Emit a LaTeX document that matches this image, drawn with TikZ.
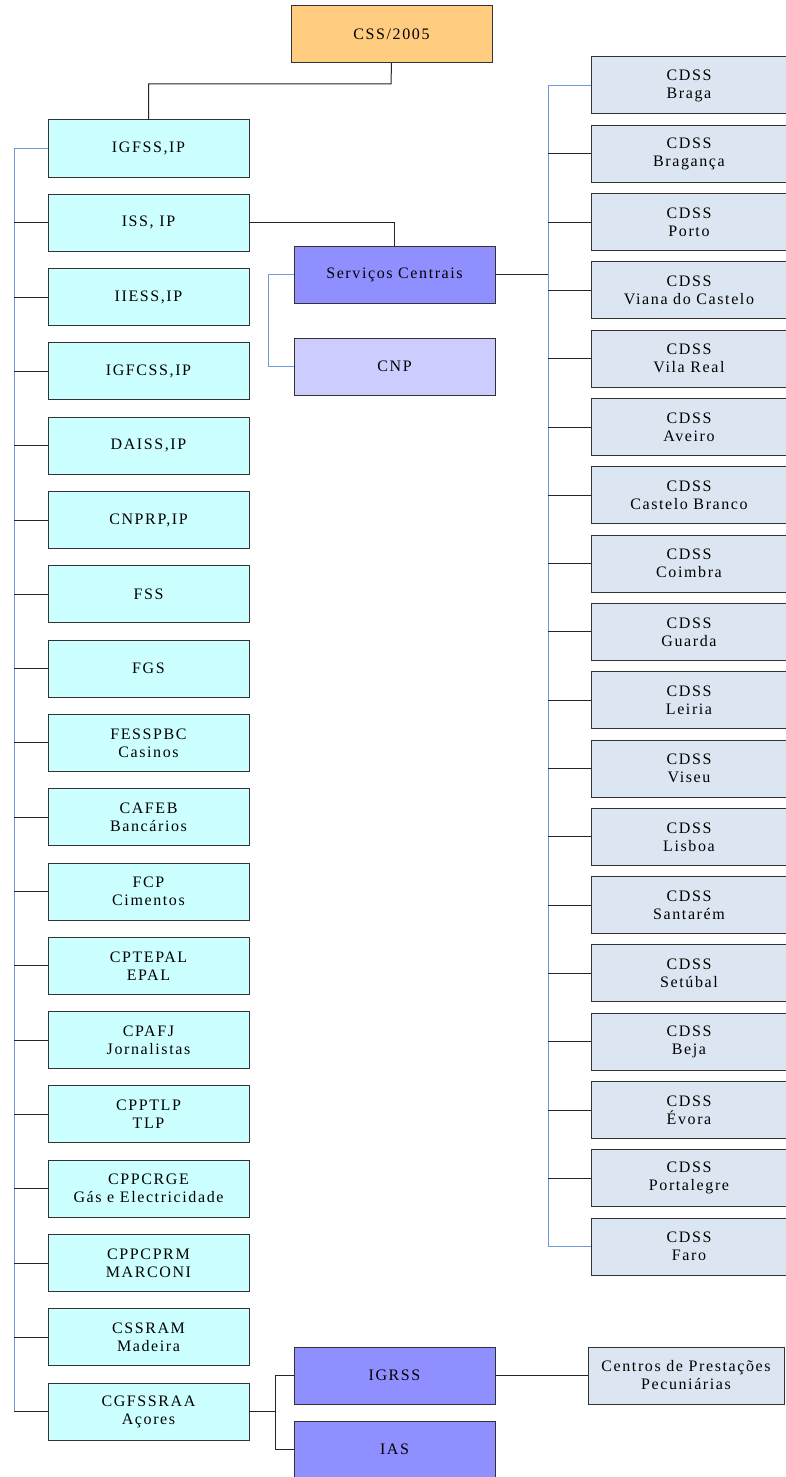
\documentclass[tikz,border=0pt]{standalone}
\usepackage{fontspec}
\setmainfont{Liberation Serif}[LetterSpace=10]
\definecolor{corange}{HTML}{FFCC80}
\definecolor{ccyan}{HTML}{CCFFFF}
\definecolor{cpurple}{HTML}{8F8FFF}
\definecolor{clilac}{HTML}{CCCCFF}
\definecolor{cpale}{HTML}{DCE6F2}
\definecolor{cblue}{HTML}{6F9BD8}
\definecolor{cedge}{HTML}{333333}
\begin{document}
\begin{tikzpicture}[x=1pt,y=-1pt,
  box/.style={draw=cedge,line width=1pt,rectangle,inner sep=0pt,outer sep=0pt,
    anchor=north west,align=center,font=\fontsize{16}{18}\selectfont,text=black},
  lbox/.style={box,fill=ccyan,minimum width=201pt,minimum height=57pt},
  rbox/.style={box,fill=cpale,minimum width=196pt,minimum height=57pt},
  pbox/.style={box,fill=cpurple,minimum width=201pt,minimum height=57pt},
  conn/.style={draw=black!85,line width=1pt},
  bconn/.style={draw=cblue,line width=1pt}]
\useasboundingbox (0,0) rectangle (785,1477);
\fill[white] (0,0) rectangle (785,1477);
% top
\node[box,fill=corange,minimum width=201pt,minimum height=57pt] (css) at (291,6) {CSS/2005};
% left column
\foreach \i/\t in {0/{IGFSS,IP},1/{ISS, IP},2/{IIESS,IP},3/{IGFCSS,IP},4/{DAISS,IP},
  5/{CNPRP,IP},6/{FSS},7/{FGS},8/{FESSPBC\\Casinos},9/{CAFEB\\Bancários},
  10/{FCP\\Cimentos},11/{CPTEPAL\\EPAL},12/{CPAFJ\\Jornalistas},13/{CPPTLP\\TLP},
  14/{CPPCRGE\\Gás e Electricidade},15/{CPPCPRM\\MARCONI},16/{CSSRAM\\Madeira},
  17/{CGFSSRAA\\Açores}}
  \node[lbox] (L\i) at (48,{120+74.3*\i}) {\t};
% right column
\foreach \i/\t in {0/Braga,1/Bragança,2/Porto,3/Viana do Castelo,4/Vila Real,5/Aveiro,
  6/Castelo Branco,7/Coimbra,8/Guarda,9/Leiria,10/Viseu,11/Lisboa,12/Santarém,
  13/Setúbal,14/Beja,15/Évora,16/Portalegre,17/Faro}
  \node[rbox] (R\i) at (591,{57+68.3*\i}) {CDSS\\\t};
% middle
\node[pbox] (serv) at (294,246) {Serviços Centrais};
\node[box,fill=clilac,minimum width=201pt,minimum height=57pt] (cnp) at (294,338) {CNP};
\node[pbox] (igrss) at (294,1347) {IGRSS};
\node[pbox] (ias) at (294,1421) {IAS};
\node[rbox] (cpp) at (588,1347) {Centros de Prestações\\Pecuniárias};
% coordinates
\coordinate (k1) at (391,84);
\coordinate (lb) at (14,0);
\coordinate (cb) at (268,0);
\coordinate (rb) at (548,0);
\coordinate (jb) at (275,0);
% connectors
\draw[conn] (css.south) -- (k1) -| (L0.north);
\draw[bconn] (L0.west) -- (L0.west -| lb) -- (L17.west -| lb);
\foreach \i in {1,...,17} \draw[conn] (L\i.west -| lb) -- (L\i.west);
\draw[conn] (L1.east) -| (serv.north);
\draw[bconn] (serv.west) -- (serv.west -| cb) |- (cnp.west);
\draw[conn] (serv.east) -- (serv.east -| rb);
\draw[bconn] (R0.west) -- (R0.west -| rb) -- (R17.west -| rb) -- (R17.west);
\foreach \i in {1,...,16} \draw[conn] (R\i.west -| rb) -- (R\i.west);
\draw[conn] (L17.east) -- (L17.east -| jb);
\draw[conn] (igrss.west) -- (igrss.west -| jb) -- (ias.west -| jb) -- (ias.west);
\draw[conn] (igrss.east) -- (cpp.west);
\end{tikzpicture}
\end{document}
